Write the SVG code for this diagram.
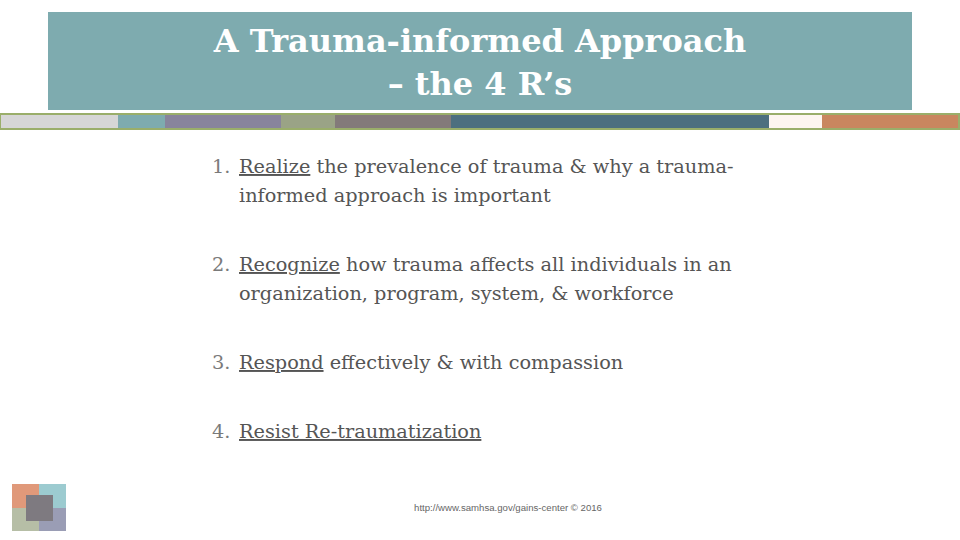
<svg xmlns="http://www.w3.org/2000/svg" width="960" height="540" viewBox="0 0 960 540">
<style>
.t{font-family:"DejaVu Serif","Liberation Serif",serif;font-weight:bold;fill:#fff;font-size:32px;text-anchor:middle}
.b{font-family:"DejaVu Serif","Liberation Serif",serif;font-size:19.3px;fill:#555}
.n{font-family:"DejaVu Serif","Liberation Serif",serif;font-size:19.3px;fill:#7a7a7a}
.u{text-decoration:underline}
</style>
<rect width="960" height="540" fill="#fff"/>
<g id="title">
<rect x="48" y="12" width="864" height="98" fill="#7eabaf"/>
<text class="t" x="480" y="52">A Trauma-informed Approach</text>
<text class="t" x="480" y="95">– the 4 R’s</text>
</g>
<g id="bar">
<rect x="0" y="113" width="960" height="17" fill="#9aae6a"/>
<rect x="1" y="115" width="117" height="13" fill="#d6d6d6"/>
<rect x="118" y="115" width="47" height="13" fill="#7eabaf"/>
<rect x="165" y="115" width="116" height="13" fill="#88849c"/>
<rect x="281" y="115" width="54" height="13" fill="#9aa386"/>
<rect x="335" y="115" width="116" height="13" fill="#837a7a"/>
<rect x="451" y="115" width="318" height="13" fill="#4d6f7f"/>
<rect x="769" y="115" width="53" height="13" fill="#fdf5f0"/>
<rect x="822" y="115" width="136" height="13" fill="#c9865f"/>
</g>
<g id="list">
<text class="n" x="212" y="173">1.</text>
<text class="b" x="239" y="173"><tspan class="u">Realize</tspan> the prevalence of trauma &amp; why a trauma-</text>
<text class="b" x="239" y="202">informed approach is important</text>
<text class="n" x="212" y="271">2.</text>
<text class="b" x="239" y="271"><tspan class="u">Recognize</tspan> how trauma affects all individuals in an</text>
<text class="b" x="239" y="300">organization, program, system, &amp; workforce</text>
<text class="n" x="212" y="369">3.</text>
<text class="b" x="239" y="369"><tspan class="u">Respond</tspan> effectively &amp; with compassion</text>
<text class="n" x="212" y="438">4.</text>
<text class="b" x="239" y="438"><tspan class="u">Resist Re-traumatization</tspan></text>
</g>
<g id="icon">
<rect x="12" y="484" width="27" height="24" fill="#e0997a"/>
<rect x="39" y="484" width="27" height="24" fill="#9ccbd0"/>
<rect x="12" y="508" width="27" height="23" fill="#b6bea6"/>
<rect x="39" y="508" width="27" height="23" fill="#9a9db5"/>
<rect x="26" y="495" width="27" height="26" fill="#7e7a80"/>
</g>
<text x="508" y="511" font-family="Liberation Sans,sans-serif" font-size="9.6" fill="#666" text-anchor="middle">http://www.samhsa.gov/gains-center © 2016</text>
</svg>
